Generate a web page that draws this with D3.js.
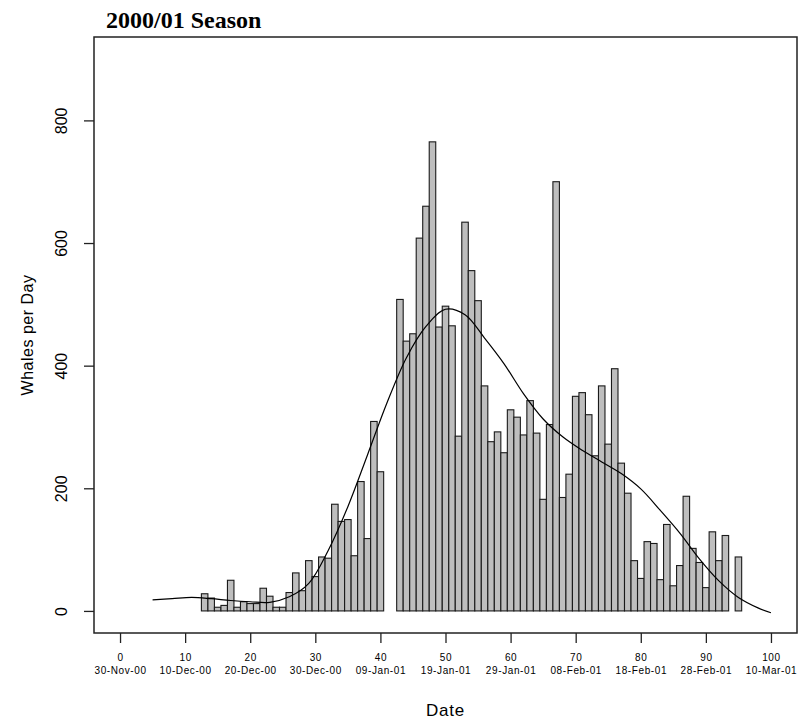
<!DOCTYPE html>
<html>
<head>
<meta charset="utf-8">
<script src="https://cdn.jsdelivr.net/npm/d3@7"></script>
<style>
  html, body { margin: 0; padding: 0; background: #fff; }
  svg { display: block; }
</style>
</head>
<body>
<svg id="chart" width="799" height="724"></svg>
<script>
// ---- data ----
const days = [13,14,15,16,17,18,19,20,21,22,23,24,25,26,27,28,29,30,31,32,33,34,35,36,37,38,39,40,
  43,44,45,46,47,48,49,50,51,52,53,54,55,56,57,58,59,60,61,62,63,64,65,66,67,68,69,70,71,72,73,74,75,76,77,78,79,80,81,82,83,84,85,86,87,88,89,90,91,92,93,
  95];
const whales = [28,21,6,9,50,6,15,12,12,37,24,6,6,30,62,33,82,56,88,86,174,146,149,90,211,118,309,227,
  508,440,452,608,660,765,463,497,465,285,634,555,506,367,276,292,258,328,316,287,343,290,182,304,700,185,223,350,356,320,253,367,272,395,241,192,82,53,113,110,51,141,41,74,187,102,79,38,129,82,123,
  88];
const smoothDays = [5,8,11,14,17,20,23,26,29,32,35,38,41,44,47,50,53,56,59,62,65,68,71,74,77,80,83,86,89,92,95,98,100];
const smoothVals = [18,20,22,20,17,15,14,23,45,99,170,254,339,413,464,492,483,445,403,354,313,284,262,243,224,199,164,127,85,49,22,5,-3];
const xTicks = [0,10,20,30,40,50,60,70,80,90,100];
const xTickDates = ["30-Nov-00","10-Dec-00","20-Dec-00","30-Dec-00","09-Jan-01","19-Jan-01","29-Jan-01","08-Feb-01","18-Feb-01","28-Feb-01","10-Mar-01"];
const yTicks = [0,200,400,600,800];
const title = "2000/01 Season";
const xLabel = "Date";
const yLabel = "Whales per Day";

// ---- layout ----
const svg = d3.select("#chart");
const L = 94, R = 797, T = 37, B = 633;
const x = d3.scaleLinear().domain([-4, 104]).range([L, R]);
const y = d3.scaleLinear().domain([-36, 936]).range([B, T]);
const sans = "'Liberation Sans', Arial, sans-serif";

// bars
svg.append("g").selectAll("rect")
  .data(days.map((d, i) => ({d, v: whales[i]})))
  .join("rect")
  .attr("x", p => x(p.d - 0.5))
  .attr("width", p => x(p.d + 0.5) - x(p.d - 0.5))
  .attr("y", p => y(p.v))
  .attr("height", p => y(0) - y(p.v))
  .attr("fill", "#bebebe")
  .attr("stroke", "#1a1a1a")
  .attr("stroke-width", 1.1);

// smooth line
const line = d3.line()
  .x((d, i) => x(smoothDays[i]))
  .y((d, i) => y(smoothVals[i]))
  .curve(d3.curveCatmullRom.alpha(0.5));
svg.append("path")
  .datum(smoothVals)
  .attr("d", line)
  .attr("fill", "none")
  .attr("stroke", "#000")
  .attr("stroke-width", 1.2);

// box
svg.append("rect")
  .attr("x", L).attr("y", T)
  .attr("width", R - L).attr("height", B - T)
  .attr("fill", "none")
  .attr("stroke", "#222")
  .attr("stroke-width", 1.5);

// x axis
const xAxis = d3.axisBottom(x).tickValues(xTicks).tickSize(10).tickFormat("");
const gx = svg.append("g").attr("transform", `translate(0,${B})`).call(xAxis);
gx.select(".domain").remove();
gx.selectAll(".tick line").attr("stroke", "#222").attr("stroke-width", 1.3);
gx.selectAll(".tick").each(function(d, i) {
  const t = d3.select(this);
  t.append("text").attr("y", 28).attr("text-anchor", "middle")
    .attr("fill", "#000").style("font-family", sans).style("font-size", "10px")
    .style("letter-spacing", "0.6px").text(d);
  t.append("text").attr("y", 41).attr("text-anchor", "middle")
    .attr("fill", "#000").style("font-family", sans).style("font-size", "10px")
    .style("letter-spacing", "0.6px").text(xTickDates[i]);
});

// y axis
const yAxis = d3.axisLeft(y).tickValues(yTicks).tickSize(10).tickFormat("");
const gy = svg.append("g").attr("transform", `translate(${L},0)`).call(yAxis);
gy.select(".domain").remove();
gy.selectAll(".tick line").attr("stroke", "#222").attr("stroke-width", 1.3);
gy.selectAll(".tick").append("text")
  .attr("transform", "translate(-27,0) rotate(-90)")
  .attr("text-anchor", "middle")
  .attr("fill", "#000")
  .style("font-family", sans).style("font-size", "16px")
  .text(d => d);

// labels
svg.append("text")
  .attr("x", (L + R) / 2).attr("y", 716)
  .attr("text-anchor", "middle")
  .style("font-family", sans).style("font-size", "17px").style("letter-spacing", "0.8px")
  .text(xLabel);
svg.append("text")
  .attr("transform", `translate(33,${(T + B) / 2}) rotate(-90)`)
  .attr("text-anchor", "middle")
  .style("font-family", sans).style("font-size", "16px").style("letter-spacing", "0.5px")
  .text(yLabel);
svg.append("text")
  .attr("x", 106).attr("y", 28)
  .style("font-family", "'Liberation Serif', 'Times New Roman', serif")
  .style("font-size", "24px").style("font-weight", "bold")
  .text(title);
</script>
</body>
</html>
